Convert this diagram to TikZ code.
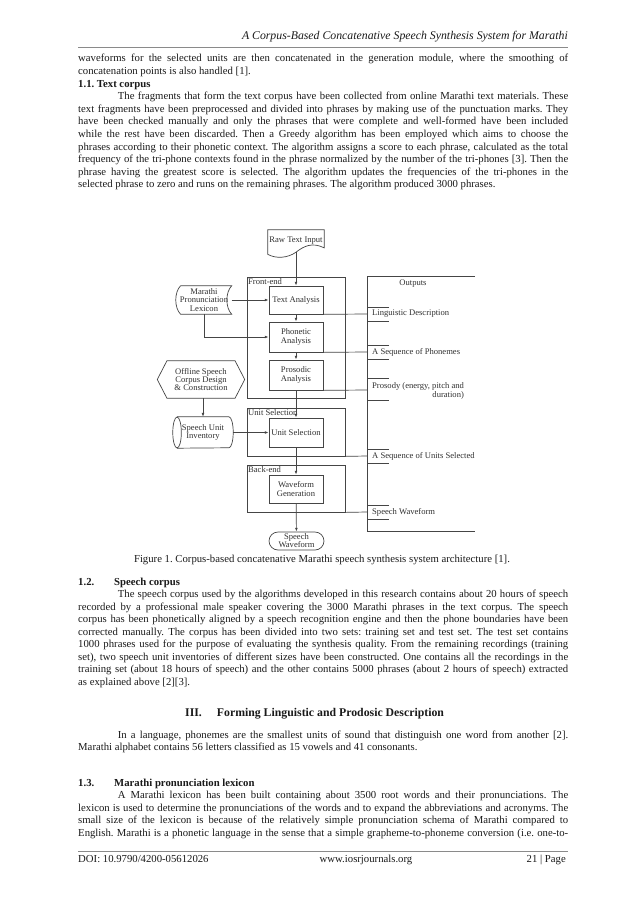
\documentclass[tikz,border=0pt]{standalone}
\usepackage{fontspec}
\setmainfont{Liberation Serif}
\usetikzlibrary{positioning,shapes.misc,arrows.meta}

\definecolor{inkgray}{HTML}{1A1A1A}
\definecolor{figline}{HTML}{454545}
\definecolor{rulegray}{HTML}{8A8A8A}

\newlength{\textw}
\setlength{\textw}{457.2pt}
\frenchspacing
% one justified line of the page
\newcommand{\jline}[1]{\hbox to \textw{\spaceskip=.25em plus .6em minus .1em\relax #1}}

\tikzset{
  body/.style={anchor=base west, inner sep=0pt, text=inkgray, font=\fontsize{10}{12}\selectfont},
  sechead/.style={body, font=\fontsize{10}{12}\selectfont\bfseries},
  figtext/.style={text=inkgray!90, font=\fontsize{8}{7.6}\selectfont, align=center, inner sep=0pt},
  procbox/.style={draw=figline, line width=.65pt, figtext, minimum width=50.4pt, minimum height=26.1pt},
  groupbox/.style={draw=figline, line width=.65pt, inner sep=0pt, minimum width=91.4pt},
  grouplabel/.style={figtext, anchor=north west, inner sep=1.2pt},
  outlabel/.style={figtext, anchor=west, align=left},
  fig/.style={draw=figline, line width=.65pt},
  flow/.style={draw=figline, line width=.65pt, -{Latex[length=3.6pt,width=2.6pt]}},
}

\begin{document}
\begin{tikzpicture}[x=0.93304pt, y=-0.93304pt]
\useasboundingbox (0,0) rectangle (638,902);
\fill[white] (0,0) rectangle (638,902);

% running head
\node[body, anchor=base east, font=\fontsize{11}{13}\selectfont\itshape] (runhead) at (568,40) {A Corpus-Based Concatenative Speech Synthesis System for Marathi};
\draw[rulegray, line width=.9pt] (78,47) -- (568,47);

\node[body] (w1) at (78,62) {\jline{waveforms for the selected units are then concatenated in the generation module, where the smoothing of}};
\node[body] (w2) at (78,74.5) {concatenation points is also handled [1].};
\node[sechead] (h11) at (78,87.5) {1.1. Text corpus};
\node[body] (t1) at (78,100) {\jline{\hspace*{37pt}The fragments that form the text corpus have been collected from online Marathi text materials. These}};
\node[body] (t2) at (78,112.5) {\jline{text fragments have been preprocessed and divided into phrases by making use of the punctuation marks. They}};
\node[body] (t3) at (78,125) {\jline{have been checked manually and only the phrases that were complete and well-formed have been included}};
\node[body] (t4) at (78,137.5) {\jline{while the rest have been discarded. Then a Greedy algorithm has been employed which aims to choose the}};
\node[body] (t5) at (78,150) {\jline{phrases according to their phonetic context. The algorithm assigns a score to each phrase, calculated as the total}};
\node[body] (t6) at (78,162.5) {\jline{frequency of the tri-phone contexts found in the phrase normalized by the number of the tri-phones [3]. Then the}};
\node[body] (t7) at (78,175) {\jline{phrase having the greatest score is selected. The algorithm updates the frequencies of the tri-phones in the}};
\node[body] (t8) at (78,187.5) {selected phrase to zero and runs on the remaining phrases. The algorithm produced 3000 phrases.};

% figure: groups
\node[groupbox, minimum height=112.9pt] (frontend) at (296,337.5) {};
\node[grouplabel] (frontlbl) at (frontend.north west) {Front-end};
\node[groupbox, minimum height=44.8pt] (unitgrp) at (296,432) {};
\node[grouplabel] (unitlbl) at (unitgrp.north west) {Unit Selection};
\node[groupbox, minimum height=43.9pt] (backend) at (296,488.5) {};
\node[grouplabel] (backlbl) at (backend.north west) {Back-end};

% figure: processing steps
\node[procbox] (textan) at (296,300) {Text Analysis};
\node[procbox, minimum height=28pt] (phonan) at (296,337) {Phonetic\\Analysis};
\node[procbox, minimum height=28pt] (prosan) at (296,375) {Prosodic\\Analysis};
\node[procbox, minimum height=27.1pt] (unitsel) at (296,432.5) {Unit Selection};
\node[procbox] (wavegen) at (296,489) {Waveform\\Generation};
\node[procbox, rounded rectangle, minimum width=51.3pt, minimum height=16.8pt] (speechout) at (296.5,541) {Speech\\Waveform};

% figure: inputs and resources
\node[figtext, minimum width=52.2pt, minimum height=20.5pt] (rawin) at (296,241) {Raw Text Input};
\draw[fig] (rawin.north west) -- (rawin.north east) -- ++(0,18)
  .. controls (312,242) and (304,246) .. (rawin.south)
  .. controls (288,258) and (276,259) .. ([yshift=-2pt]rawin.south west) -- cycle;

\node[figtext, minimum width=51.3pt, minimum height=26.1pt] (lex) at (204,300) {Marathi\\Pronunciation\\Lexicon};
\draw[fig] ([xshift=4pt]lex.north west) -- (lex.north east)
  .. controls +(-6pt,-6pt) and +(-6pt,6pt) .. (lex.south east)
  -- ([xshift=4pt]lex.south west)
  .. controls +(-6pt,6pt) and +(-6pt,-6pt) .. ([xshift=4pt]lex.north west);

\node[figtext, minimum width=81.2pt, minimum height=34.5pt] (offline) at (201,379.5) {Offline Speech\\Corpus Design\\\& Construction};
\draw[fig] (offline.west) -- ([xshift=9pt]offline.north west) -- ([xshift=-9pt]offline.north east)
  -- (offline.east) -- ([xshift=-9pt]offline.south east) -- ([xshift=9pt]offline.south west) -- cycle;

\node[figtext, minimum width=56pt, minimum height=28.9pt] (inv) at (203,432.5) {Speech Unit\\Inventory};
\draw[fig] ([xshift=4pt]inv.north west) -- ([xshift=-4pt]inv.north east)
  arc[start angle=90, end angle=-90, x radius=4pt, y radius=14.45pt] -- ([xshift=4pt]inv.south west);
\draw[fig] ([xshift=4pt]inv.west) ellipse [x radius=4pt, y radius=14.45pt];

% figure: outputs bracket
\node[figtext] (outlbl) at (413,283.5) {Outputs};
\coordinate (outtop) at (367,276);
\coordinate (outbot) at (367,531);
\draw[fig] (475,276) -- (outtop) -- (outbot) -- (475,531);
\foreach \n/\y/\t/\b in {lingout/314/7/7, phonout/352/7/7, prosout/390/12/10, unitout/456/7/7, waveout/512/7/7} {
  \coordinate (\n) at (367,\y);
  \draw[fig] (389,\y-\t) -- (367,\y-\t) (367,\y+\b) -- (389,\y+\b);
}
\node[outlabel] (linglbl) at (372,314) {Linguistic Description};
\node[outlabel] (phonlbl) at (372,352) {A Sequence of Phonemes};
\node[outlabel, align=right] (proslbl) at (372,391) {Prosody (energy, pitch and\\duration)};
\node[outlabel] (unitoutlbl) at (372,456) {A Sequence of Units Selected};
\node[outlabel] (wavelbl) at (372,512) {Speech Waveform};

\draw[fig] (textan.south east) -- (lingout);
\draw[fig] (phonan.south east) -- (phonout);
\draw[fig] (prosan.south east) -- (prosout);
\draw[fig] (unitgrp.south east) -- (unitout);
\draw[fig] (backend.south east) -- (waveout);

% figure: flow
\draw[flow] (rawin.south) -- (textan);
\draw[flow] (textan) -- (phonan);
\draw[flow] (phonan) -- (prosan);
\draw[flow] (prosan) -- (unitsel);
\draw[flow] (unitsel) -- (wavegen);
\draw[flow] (wavegen) -- (speechout);
\draw[flow] (lex) -- (textan);
\draw[flow] (lex.south) |- (phonan);
\draw[flow] (inv.north |- offline.south) -- (inv);
\draw[flow] (inv) -- (unitsel);

\node[body, anchor=base] (caption) at (322,562) {Figure 1. Corpus-based concatenative Marathi speech synthesis system architecture [1].};

\node[sechead] (h12) at (78,585) {\makebox[33.6pt][l]{1.2.}Speech corpus};
\node[body] (s1) at (78,597.5) {\jline{\hspace*{37pt}The speech corpus used by the algorithms developed in this research contains about 20 hours of speech}};
\node[body] (s2) at (78,610) {\jline{recorded by a professional male speaker covering the 3000 Marathi phrases in the text corpus. The speech}};
\node[body] (s3) at (78,622.5) {\jline{corpus has been phonetically aligned by a speech recognition engine and then the phone boundaries have been}};
\node[body] (s4) at (78,635) {\jline{corrected manually. The corpus has been divided into two sets: training set and test set. The test set contains}};
\node[body] (s5) at (78,647.5) {\jline{1000 phrases used for the purpose of evaluating the synthesis quality. From the remaining recordings (training}};
\node[body] (s6) at (78,660) {\jline{set), two speech unit inventories of different sizes have been constructed. One contains all the recordings in the}};
\node[body] (s7) at (78,672.5) {\jline{training set (about 18 hours of speech) and the other contains 5000 phrases (about 2 hours of speech) extracted}};
\node[body] (s8) at (78,685) {as explained above [2][3].};

\node[sechead, font=\fontsize{11}{13}\selectfont\bfseries] (h3) at (185,716) {III.\hspace{14pt}Forming Linguistic and Prodosic Description};
\node[body] (i1) at (78,738) {\jline{\hspace*{37pt}In a language, phonemes are the smallest units of sound that distinguish one word from another [2].}};
\node[body] (i2) at (78,750.5) {Marathi alphabet contains 56 letters classified as 15 vowels and 41 consonants.};

\node[sechead] (h13) at (78,786) {\makebox[33.6pt][l]{1.3.}Marathi pronunciation lexicon};
\node[body] (m1) at (78,798.5) {\jline{\hspace*{37pt}A Marathi lexicon has been built containing about 3500 root words and their pronunciations. The}};
\node[body] (m2) at (78,811) {\jline{lexicon is used to determine the pronunciations of the words and to expand the abbreviations and acronyms. The}};
\node[body] (m3) at (78,823.5) {\jline{small size of the lexicon is because of the relatively simple pronunciation schema of Marathi compared to}};
\node[body] (m4) at (78,836) {\jline{English. Marathi is a phonetic language in the sense that a simple grapheme-to-phoneme conversion (i.e. one-to-}};

% footer
\draw[rulegray, line width=.9pt] (78,851) -- (568,851);
\node[body] (doi) at (78,862) {DOI: 10.9790/4200-05612026};
\node[body, anchor=base] (site) at (366,862) {www.iosrjournals.org};
\node[body, anchor=base east] (pageno) at (566,862) {21 | Page};
\end{tikzpicture}
\end{document}
